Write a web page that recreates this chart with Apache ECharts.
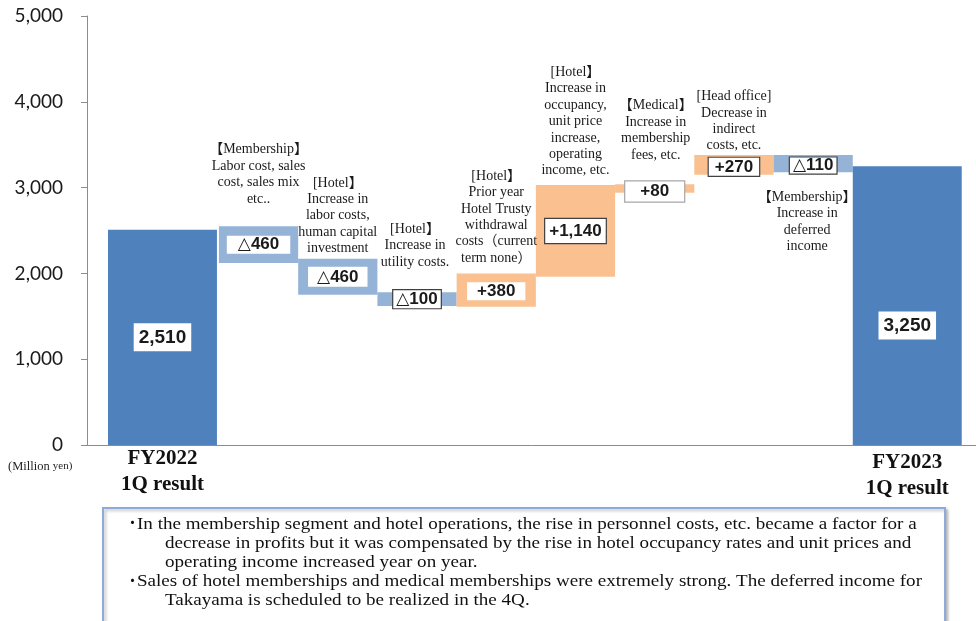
<!DOCTYPE html>
<html><head><meta charset="utf-8">
<script src="https://cdn.jsdelivr.net/npm/echarts@6/dist/echarts.min.js"></script>
<style>html,body{margin:0;padding:0;background:#fff}#c{width:976px;height:621px}</style>
</head><body><div id="c"></div>
<script>
// ---------- data ----------
const categories = ['FY2022\n1Q result', 'Membership', 'Hotel labor', 'Hotel utility', 'Hotel Trusty', 'Hotel occupancy', 'Medical', 'Head office', 'Membership deferred', 'FY2023\n1Q result'];
const changes = [2510, -460, -460, -100, 380, 1140, 80, 270, -110, 3250];
const valueLabels = ['2,510', '△460', '△460', '△100', '+380', '+1,140', '+80', '+270', '△110', '3,250'];
// bar extents
const barLow  = [0, 2120, 1750, 1620, 1610, 1960, 2940, 3150, 3180, 0];
const barHigh = [2510, 2550, 2170, 1780, 2000, 3030, 3040, 3380, 3380, 3250];
const notes = [
  '',
  '【Membership】\nLabor cost, sales\ncost, sales mix\netc..',
  '[Hotel】\nIncrease in\nlabor costs,\nhuman capital\ninvestment',
  '[Hotel】\nIncrease in\nutility costs.',
  '[Hotel】\nPrior year\nHotel Trusty\nwithdrawal\ncosts（current\nterm none）',
  '[Hotel】\nIncrease in\noccupancy,\nunit price\nincrease,\noperating\nincome, etc.',
  '【Medical】\nIncrease in\nmembership\nfees, etc.',
  '[Head office]\nDecrease in\nindirect\ncosts, etc.',
  '【Membership】\nIncrease in\ndeferred\nincome',
  ''
];
const yTicks = [0, 1000, 2000, 3000, 4000, 5000];
const unitLabel = ['(Million ', 'yen)'];
const summaryLines = [
  ['・', 'In the membership segment and hotel operations, the rise in personnel costs, etc. became a factor for a'],
  ['', 'decrease in profits but it was compensated by the rise in hotel occupancy rates and unit prices and'],
  ['', 'operating income increased year on year.'],
  ['・', 'Sales of hotel memberships and medical memberships were extremely strong. The deferred income for'],
  ['', 'Takayama is scheduled to be realized in the 4Q.']
];

// ---------- layout / style (not data) ----------
const LAYOUT = { lead: 0.265, endW: 1.375, gap: 0.025, midW: 1, max: 11.22 };
function slot(i) {
  const midStart = LAYOUT.lead + LAYOUT.endW + LAYOUT.gap;
  if (i === 0) return [LAYOUT.lead, LAYOUT.lead + LAYOUT.endW];
  if (i === categories.length - 1) {
    const s = midStart + (categories.length - 2) * LAYOUT.midW;
    return [s, s + LAYOUT.endW];
  }
  return [midStart + (i - 1) * LAYOUT.midW, midStart + i * LAYOUT.midW];
}
const COLORS = { total: '#4f81bd', down: '#95b3d7', up: '#fac090' };
const SERIF = "'Liberation Serif','Times New Roman','Noto Sans CJK JP',serif";
const SANS = "'Liberation Sans',Arial,'DejaVu Sans',sans-serif";
// value label boxes: [padV, padH, border, fontSize, dy]
const LBL = [
  [4, 5, null, 19, 0],
  [0, 11, null, 17, 0],
  [1, 9, null, 17, 0],
  [0, 3, '#404040', 17, 0],
  [0, 10, null, 17, 1],
  [3, 4, '#404040', 17, 0],
  [1, 15, '#a6a6a6', 17, 3],
  [0, 6, '#404040', 17, 2],
  [-1, 3, '#404040', 17, 2],
  [4, 5, null, 19, 20]
];
// annotation placement: [side, gap, dx]
const NOTE = [
  null, ['top', 19, 0], ['top', 2, 0], ['top', 22, -2], ['top', 7, 0], ['top', 6, 0],
  ['top', 21, 1], ['top', 1, 0], ['bottom', 17, -6], null
];
const CAT_DY = [1, 5];

const seriesData = categories.map((c, i) => {
  const [x0, x1] = slot(i);
  return [x0, x1, barLow[i], barHigh[i], i];
});

const chart = echarts.init(document.getElementById('c'), null, { renderer: 'canvas' });
chart.setOption({
  animation: false,
  grid: { left: 87, right: 0, top: 16, bottom: 176, containLabel: false },
  xAxis: {
    type: 'value', min: 0, max: LAYOUT.max,
    axisLine: { show: true, lineStyle: { color: '#8c8c8c', width: 1 } },
    axisTick: { show: false }, axisLabel: { show: false }, splitLine: { show: false }
  },
  yAxis: {
    type: 'value', min: yTicks[0], max: yTicks[yTicks.length - 1], interval: yTicks[1] - yTicks[0],
    axisLine: { show: true, lineStyle: { color: '#8c8c8c', width: 1 } },
    axisTick: { show: true, inside: false, length: 6, lineStyle: { color: '#8c8c8c' } },
    splitLine: { show: false },
    axisLabel: {
      margin: 24, color: '#1a1a1a', fontSize: 19, fontFamily: 'Lato, sans-serif',
      formatter: v => v.toLocaleString('en-US')
    }
  },
  series: [{
    type: 'custom',
    data: seriesData,
    clip: false,
    renderItem: function (params, api) {
      const i = api.value(4);
      const pTop = api.coord([api.value(0), api.value(3)]);
      const pBot = api.coord([api.value(1), api.value(2)]);
      const x = pTop[0], y = pTop[1], w = pBot[0] - pTop[0], h = pBot[1] - pTop[1];
      const isTotal = (i === 0 || i === categories.length - 1);
      const color = isTotal ? COLORS.total : (changes[i] < 0 ? COLORS.down : COLORS.up);
      const cx = x + w / 2;
      const children = [{ type: 'rect', shape: { x, y, width: w, height: h }, style: { fill: color } }];
      const L = LBL[i];
      children.push({
        type: 'text', x: cx, y: y + h / 2 + L[4], z2: 10,
        style: {
          text: valueLabels[i], fill: '#1a1a1a', font: 'bold ' + L[3] + 'px ' + SANS,
          align: 'center', verticalAlign: 'middle', backgroundColor: '#ffffff',
          borderColor: L[2] || 'transparent', borderWidth: L[2] ? 1.2 : 0,
          padding: [Math.max(L[0], 0), L[1], Math.max(L[0], 0), L[1]], lineHeight: L[3] + Math.min(L[0], 0) * 2 + 1
        }
      });
      const N = NOTE[i];
      if (N && notes[i]) {
        children.push({
          type: 'text', x: cx + N[2], y: N[0] === 'top' ? y - N[1] : y + h + N[1], z2: 5,
          style: {
            text: notes[i], fill: '#1a1a1a', font: '14px ' + SERIF, lineHeight: 16.4,
            align: 'center', verticalAlign: N[0] === 'top' ? 'bottom' : 'top'
          }
        });
      }
      if (isTotal) {
        const base = api.coord([0, 0])[1];
        children.push({
          type: 'text', x: cx, y: base + CAT_DY[i === 0 ? 0 : 1],
          style: {
            text: categories[i], fill: '#111', font: 'bold 21px ' + SERIF, lineHeight: 26,
            align: 'center', verticalAlign: 'top'
          }
        });
      }
      return { type: 'group', children };
    }
  }],
  graphic: [
    {
      type: 'text', left: 8, top: 460,
      style: {
        text: '{a|' + unitLabel[0] + '}{b|' + unitLabel[1] + '}',
        rich: {
          a: { font: '12.5px ' + SERIF, fill: '#1f1f1f' },
          b: { font: '11px ' + SERIF, fill: '#1f1f1f' }
        }
      }
    },
    {
      type: 'rect', shape: { x: 103, y: 508, width: 842, height: 122 },
      style: { fill: '#fff', stroke: '#8eaadb', lineWidth: 2, shadowBlur: 3, shadowOffsetX: 2, shadowOffsetY: 2, shadowColor: 'rgba(0,0,0,0.25)' }
    },
    ...summaryLines.flatMap((ln, k) => {
      const y = 524 + k * 19.2;
      const arr = [];
      if (ln[0]) arr.push({ type: 'text', x: 125, y, style: { text: ln[0], font: '15px ' + SERIF, fill: '#111', verticalAlign: 'middle' } });
      arr.push({ type: 'text', x: ln[0] ? 137 : 165, y, scaleX: 1.09, style: { text: ln[1], font: '17.5px ' + SERIF, fill: '#111', verticalAlign: 'middle' } });
      return arr;
    })
  ]
});
</script>
</body></html>
